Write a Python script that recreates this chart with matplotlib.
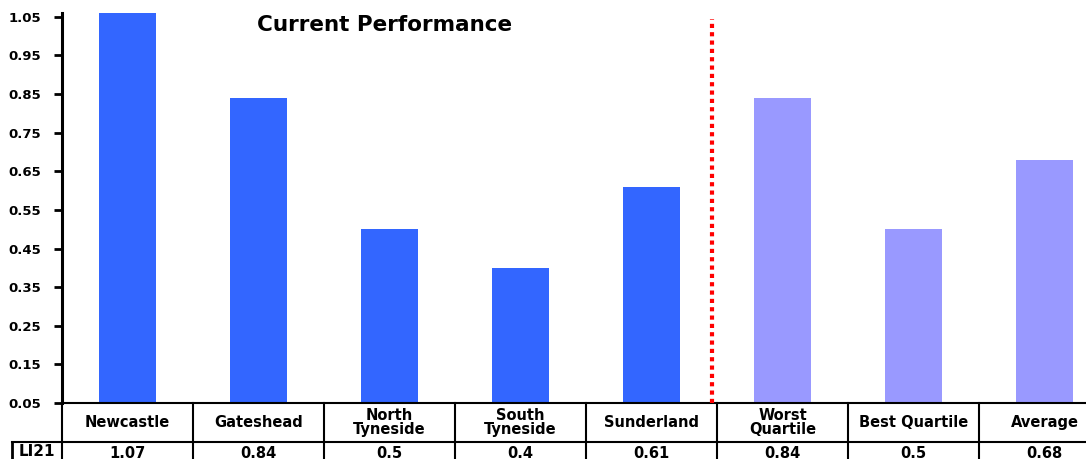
import numpy as np
import matplotlib.pyplot as plt
import matplotlib.transforms as mtransforms

categories = ["Newcastle", "Gateshead", "North\nTyneside", "South\nTyneside", "Sunderland",
              "Worst\nQuartile", "Best Quartile", "Average"]
values = [1.07, 0.84, 0.5, 0.4, 0.61, 0.84, 0.5, 0.68]
value_labels = ["1.07", "0.84", "0.5", "0.4", "0.61", "0.84", "0.5", "0.68"]
is_benchmark = [False, False, False, False, False, True, True, True]
row_label = "LI21"
yticks = [0.05, 0.15, 0.25, 0.35, 0.45, 0.55, 0.65, 0.75, 0.85, 0.95, 1.05]

plt.rcParams["font.family"] = ["DejaVu Sans"]
plt.rcParams["font.weight"] = "bold"

W, H = 1086, 459
fig = plt.figure(figsize=(W / 100, H / 100), dpi=100)
ax = fig.add_axes([62 / W, 56 / H, (1110 - 62) / W, (403 - 13) / H])

x = np.arange(len(categories))
colors = ["#9999FF" if b else "#3366FF" for b in is_benchmark]
ax.bar(x, values, width=0.43, color=colors, bottom=0, zorder=2)

ax.set_xlim(-0.5, len(categories) - 0.5)
ax.set_ylim(0.05, 1.06)
ax.set_yticks(yticks)
ax.set_yticklabels([f"{t:.2f}" for t in yticks], fontsize=9.5, fontweight="bold")
ax.tick_params(axis="y", length=6, width=2, direction="out", pad=9)
ax.set_xticks([])
for s in ["top", "right"]:
    ax.spines[s].set_visible(False)
ax.spines["left"].set_linewidth(2.2)
ax.spines["bottom"].set_linewidth(1.5)

# separator between councils and benchmarks
ax.axvline(4.46, ymin=0, ymax=0.985, color="red", linestyle=(0, (1, 1)),
           linewidth=3, zorder=3)

ax.text(0.308, 0.995, "Current Performance", transform=ax.transAxes, fontsize=15.5,
        fontweight="bold", ha="center", va="top")

# data table below the axes
trans = mtransforms.blended_transform_factory(ax.transData, ax.transAxes)
row_h = 39 / 390
for i in range(len(categories) + 1):
    ax.plot([i - 0.5, i - 0.5], [0, -2.2 * row_h], transform=trans, color="black",
            linewidth=1.5, clip_on=False)
ax.plot([-0.5, len(categories) - 0.5], [-row_h, -row_h], transform=trans, color="black",
        linewidth=1.5, clip_on=False)
for i, (c, v) in enumerate(zip(categories, value_labels)):
    ax.text(i, -0.5 * row_h, c, transform=trans, ha="center", va="center", fontsize=10.5,
            fontweight="bold", linespacing=0.95, clip_on=False)
    ax.text(i, -1.1 * row_h, v, transform=trans, ha="center", va="top", fontsize=10.5,
            fontweight="bold", clip_on=False)

# row label box
x0 = ax.transAxes.inverted().transform(fig.transFigure.transform((12 / W, 0)))[0]
ax.plot([x0, 0], [-row_h, -row_h], transform=ax.transAxes, color="black", linewidth=1.5,
        clip_on=False)
ax.plot([x0, x0], [-row_h, -2.2 * row_h], transform=ax.transAxes, color="black",
        linewidth=2, clip_on=False)
ax.text((x0 + 0) / 2, -1.05 * row_h, row_label, transform=ax.transAxes, ha="center",
        va="top", fontsize=11, fontweight="bold", clip_on=False)

fig.savefig("out.png", dpi=100)
